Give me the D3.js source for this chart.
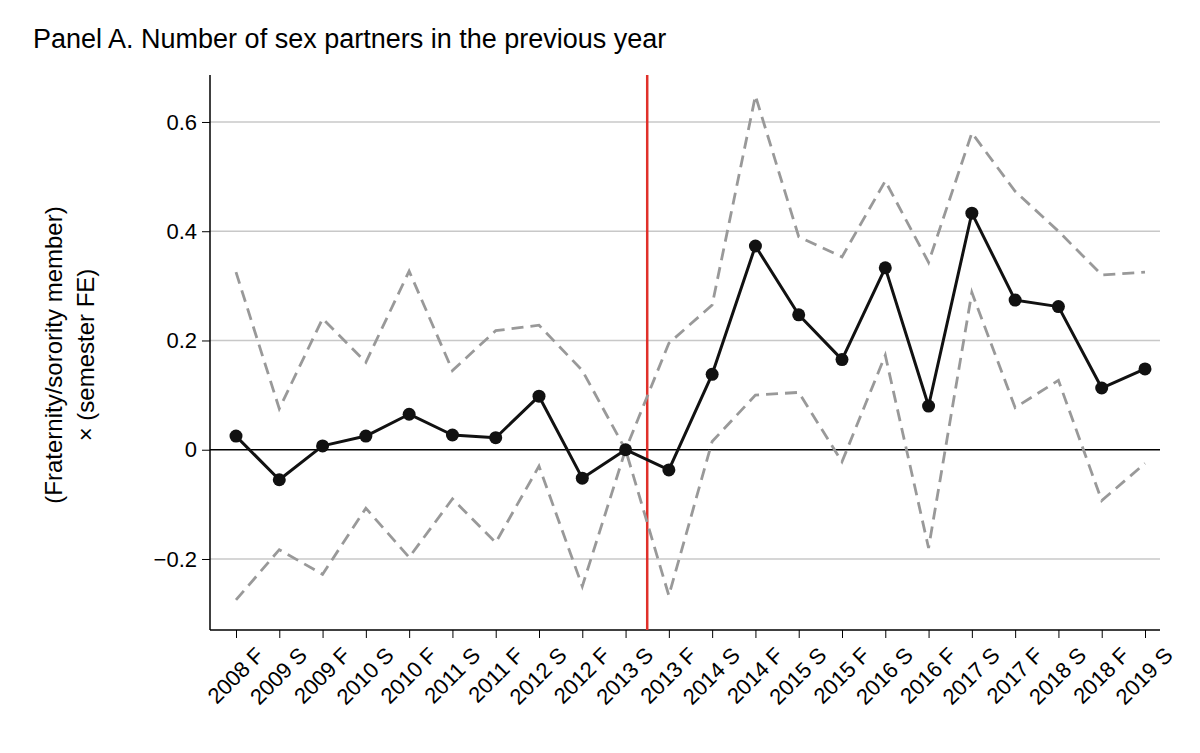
<!DOCTYPE html>
<html><head><meta charset="utf-8">
<script src="https://cdn.jsdelivr.net/npm/d3@7"></script>
<style>body{margin:0;background:#fff;} text{font-family:"Liberation Sans",Arial,sans-serif;}</style>
</head><body><div id="chart"></div>
<script>
// ---- data ----
var categories = ["2008 F","2009 S","2009 F","2010 S","2010 F","2011 S","2011 F","2012 S","2012 F","2013 S",
  "2013 F","2014 S","2014 F","2015 S","2015 F","2016 S","2016 F","2017 S","2017 F","2018 S","2018 F","2019 S"];
var estimate = [0.025,-0.055,0.007,0.025,0.065,0.027,0.022,0.098,-0.052,0,
  -0.037,0.138,0.373,0.247,0.165,0.333,0.08,0.433,0.274,0.262,0.113,0.148];
var upper = [0.325,0.075,0.24,0.16,0.327,0.145,0.218,0.228,0.145,0,
  0.195,0.265,0.648,0.39,0.353,0.492,0.343,0.58,0.473,0.4,0.32,0.325];
var lower = [-0.275,-0.183,-0.228,-0.107,-0.197,-0.09,-0.17,-0.03,-0.25,0,
  -0.267,0.015,0.1,0.105,-0.022,0.173,-0.18,0.288,0.077,0.127,-0.093,-0.025];
var yTicks = [-0.2,0,0.2,0.4,0.6];
var breakAfter = "2013 S";

// ---- svg ----
const width = 1200, height = 753;
const plotLeft = 210, plotRight = 1160, plotTop = 75, plotBottom = 630;
const svg = d3.select("#chart").append("svg").attr("width", width).attr("height", height);

var xScale = d3.scalePoint().domain(categories).range([236, 1145]);
var yScale = d3.scaleLinear().domain([-0.33, 0.686]).range([plotBottom, plotTop]);

svg.append("text").attr("x", 33).attr("y", 48).attr("font-size", 27).text("Panel A. Number of sex partners in the previous year");

// grid
svg.selectAll(".grid").data(yTicks.filter(d => d !== 0)).enter().append("line")
  .attr("x1", plotLeft).attr("x2", plotRight)
  .attr("y1", d => yScale(d)).attr("y2", d => yScale(d))
  .attr("stroke", "#c8c8c8").attr("stroke-width", 1.3);
svg.append("line").attr("x1", plotLeft).attr("x2", plotRight)
  .attr("y1", yScale(0)).attr("y2", yScale(0)).attr("stroke", "#000").attr("stroke-width", 1.3);

// axes
var yaxis = d3.axisLeft(yScale).tickValues(yTicks).tickSize(8)
  .tickFormat(d => d === 0 ? "0" : (d < 0 ? "\u2212" + Math.abs(d).toFixed(1) : d.toFixed(1)));
var gy = svg.append("g").attr("transform", "translate(" + plotLeft + ",0)").call(yaxis);
gy.select(".domain").attr("d", "M0," + plotTop + "V" + plotBottom).attr("stroke-width", 1.5);
gy.selectAll("text").attr("font-size", 22).attr("dx", -2);

var xaxis = d3.axisBottom(xScale).tickSize(8);
var gx = svg.append("g").attr("transform", "translate(0," + plotBottom + ")").call(xaxis);
gx.select(".domain").attr("d", "M" + plotLeft + ",0H" + plotRight).attr("stroke-width", 1.5);
gx.selectAll("text").attr("font-size", 22).attr("text-anchor", "end")
  .attr("transform", "translate(10,8) rotate(-45)").attr("dy", "0.7em");

// y label
var yl = svg.append("text").attr("transform", "translate(62,355) rotate(-90)")
  .attr("text-anchor", "middle").attr("font-size", 24);
yl.append("tspan").attr("x", 0).attr("dy", 0).text("(Fraternity/sorority member)");
yl.append("tspan").attr("x", 0).attr("dy", 32).text("\u00d7 (semester FE)");

// red break line
var bx = xScale(breakAfter) + xScale.step() / 2;
svg.append("line").attr("x1", bx).attr("x2", bx).attr("y1", plotTop).attr("y2", plotBottom)
  .attr("stroke", "#e0302a").attr("stroke-width", 2.5);

// lines
var line = d3.line().x((d, i) => xScale(categories[i])).y(d => yScale(d));
[upper, lower].forEach(function(s){
  svg.append("path").attr("fill", "none").attr("stroke", "#999").attr("stroke-width", 2.8)
    .attr("stroke-dasharray", "12,7").attr("d", line(s));
});
svg.append("path").attr("fill", "none").attr("stroke", "#111").attr("stroke-width", 3)
  .attr("stroke-linejoin", "round").attr("d", line(estimate));
svg.selectAll(".pt").data(estimate).enter().append("circle")
  .attr("cx", (d, i) => xScale(categories[i])).attr("cy", d => yScale(d))
  .attr("r", 6.5).attr("fill", "#111");
</script></body></html>
